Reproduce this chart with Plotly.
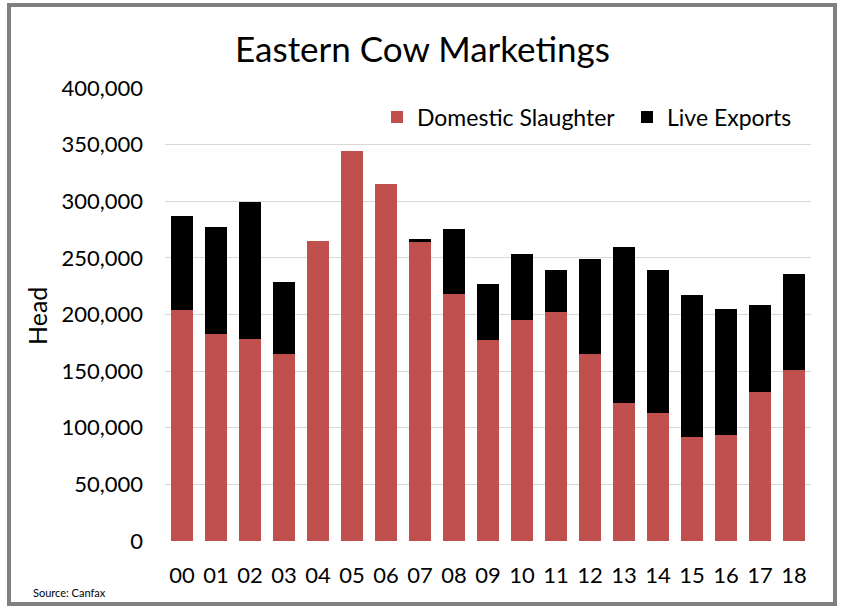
import plotly.graph_objects as go

years = ["00", "01", "02", "03", "04", "05", "06", "07", "08", "09",
         "10", "11", "12", "13", "14", "15", "16", "17", "18"]
domestic = [203700, 183000, 178600, 165400, 265200, 344600, 315500, 264000, 218400, 177200,
            194900, 202200, 165400, 121600, 112800, 91800, 93600, 131600, 150700]
live = [83300, 94000, 120400, 63300, 0, 0, 0, 2700, 57100, 49800,
        58500, 36800, 83600, 137700, 126200, 125200, 111400, 76400, 85100]
y_ticks = [0, 50000, 100000, 150000, 200000, 250000, 300000, 350000, 400000]
y_tick_text = ["0", "50,000", "100,000", "150,000", "200,000", "250,000", "300,000", "350,000", "400,000"]

FONT = "Lato"
W, H = 845, 607
L, R, T, B = 165, 34, 88, 66
pw, ph = W - L - R, H - T - B

def px(x):
    return (x - L) / pw

def py(y):
    return (H - B - y) / ph

fig = go.Figure()
fig.add_trace(go.Bar(x=years, y=domestic, name="Domestic Slaughter", legend="legend",
                     marker=dict(color="#C0504D", line=dict(width=0))))
fig.add_trace(go.Bar(x=years, y=live, name="Live Exports", legend="legend2",
                     marker=dict(color="#000000", line=dict(width=0))))

leg_common = dict(orientation="h", yanchor="middle", xanchor="left",
                  font=dict(family=FONT, size=23, color="black"),
                  bgcolor="rgba(0,0,0,0)")

fig.update_layout(
    width=W, height=H,
    barmode="stack", bargap=0.34,
    margin=dict(l=L, r=R, t=T, b=B),
    paper_bgcolor="white", plot_bgcolor="white",
    font=dict(family=FONT, color="black"),
    title=dict(text="Eastern Cow Marketings", x=0.5, xref="container", xanchor="center",
               y=1 - 50 / H, yref="container", yanchor="middle",
               font=dict(family=FONT, size=35, color="black")),
    legend=dict(x=px(377), y=py(117), **leg_common),
    legend2=dict(x=px(627), y=py(117), **leg_common),
    showlegend=True,
)
fig.update_xaxes(showgrid=False, showline=False, ticks="", zeroline=False,
                 tickfont=dict(family=FONT, size=22, color="black"),
                 ticklabelstandoff=19)
fig.update_yaxes(range=[0, 400000], tickvals=y_ticks, ticktext=y_tick_text,
                 showgrid=True, gridcolor="#d9d9d9", gridwidth=1.3,
                 zeroline=False, showline=False, ticks="",
                 tickfont=dict(family=FONT, size=22, color="black"),
                 ticklabelstandoff=21)

fig.add_annotation(text="Head", textangle=-90, x=px(37), y=py(316), xref="paper", yref="paper",
                   showarrow=False, font=dict(family=FONT, size=25, color="black"),
                   xanchor="center", yanchor="middle")
fig.add_annotation(text="Source: Canfax", x=px(31), y=py(592), xref="paper", yref="paper",
                   showarrow=False, font=dict(family=FONT, size=11, color="black"),
                   xanchor="left", yanchor="middle")
fig.add_shape(type="rect", xref="paper", yref="paper",
              x0=px(9), x1=px(835), y0=py(604), y1=py(5),
              line=dict(color="#808080", width=4), fillcolor="rgba(0,0,0,0)", layer="below")

fig.write_html("out.html", config={"displayModeBar": False},
               post_script="document.body.style.margin='0';")
